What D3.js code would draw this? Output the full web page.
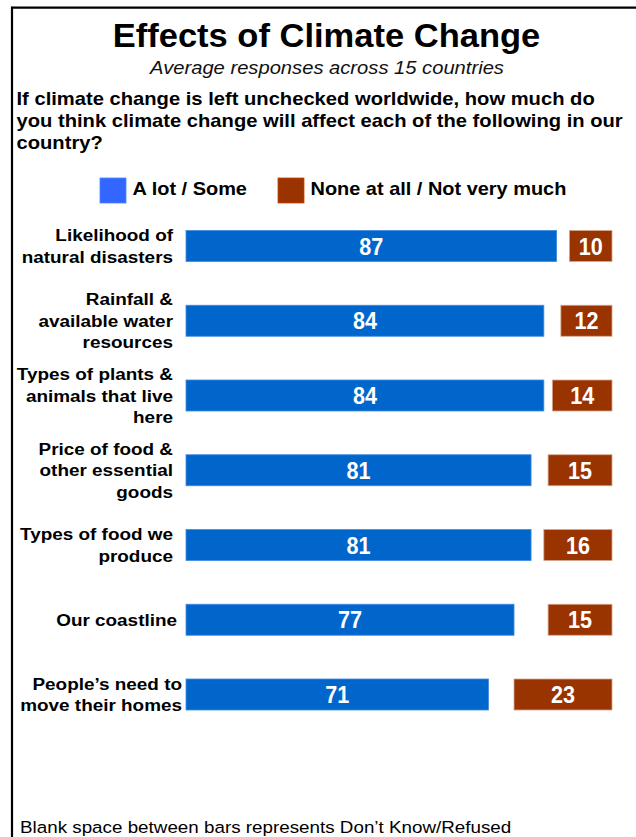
<!DOCTYPE html>
<html>
<head>
<meta charset="utf-8">
<script src="https://cdn.jsdelivr.net/npm/d3@7"></script>
<style>
  html, body { margin: 0; padding: 0; background: #ffffff; }
  svg { display: block; }
</style>
</head>
<body>
<svg id="chart" width="636" height="837"></svg>
<script>
// ---------- data ----------
const categories = [
  "Likelihood of natural disasters",
  "Rainfall & available water resources",
  "Types of plants & animals that live here",
  "Price of food & other essential goods",
  "Types of food we produce",
  "Our coastline",
  "People’s need to move their homes"
];
const labelLines = [
  ["Likelihood of", "natural disasters"],
  ["Rainfall &", "available water", "resources"],
  ["Types of plants &", "animals that live", "here"],
  ["Price of food &", "other essential", "goods"],
  ["Types of food we", "produce"],
  ["Our coastline"],
  ["People’s need to", "move their homes"]
];
const aLotSome = [87, 84, 84, 81, 81, 77, 71];
const noneNotMuch = [10, 12, 14, 15, 16, 15, 23];
const seriesNames = ["A lot / Some", "None at all / Not very much"];

const titleText = "Effects of Climate Change";
const subtitleText = "Average responses across 15 countries";
const questionLines = [
  "If climate change is left unchecked worldwide, how much do",
  "you think climate change will affect each of the following in our",
  "country?"
];
const footnoteText = "Blank space between bars represents Don’t Know/Refused";

// ---------- style ----------
const FONT = "'Liberation Sans', Arial, Helvetica, sans-serif";
const BLUE = "#0066cc";
const RED = "#993300";
const LEGEND_BLUE = "#3366ff";
const SX = 1.14; // horizontal stretch of the source text

const svg = d3.select("#chart");

function txt(x, y, str, o) {
  o = o || {};
  return svg.append("text")
    .attr("transform", `translate(${x},${y}) scale(${o.sx || SX},1)`)
    .attr("text-anchor", o.anchor || "start")
    .attr("font-family", FONT)
    .attr("font-size", o.size || 17)
    .attr("font-weight", o.weight || "normal")
    .attr("font-style", o.style || "normal")
    .attr("fill", o.fill || "#000")
    .text(str);
}

// frame
svg.append("line").attr("x1", 12).attr("x2", 12).attr("y1", 6.7).attr("y2", 837)
  .attr("stroke", "#000").attr("stroke-width", 2.2);
svg.append("line").attr("x1", 11).attr("x2", 636).attr("y1", 7.7).attr("y2", 7.7)
  .attr("stroke", "#000").attr("stroke-width", 2.2);

// titles
txt(326.5, 46.5, titleText, { size: 33.5, weight: "bold", anchor: "middle", sx: 1.03 });
txt(327, 74, subtitleText, { size: 17.7, style: "italic", anchor: "middle", fill: "#111" });
questionLines.forEach((l, i) =>
  txt(16.5, 105 + i * 22, l, { size: 17.7, weight: "bold" }));

// legend
const legendItems = [
  { name: seriesNames[0], color: LEGEND_BLUE, x: 100 },
  { name: seriesNames[1], color: RED, x: 278 }
];
legendItems.forEach(d => {
  svg.append("rect").attr("x", d.x).attr("y", 178).attr("width", 26).attr("height", 25)
    .attr("fill", d.color).attr("stroke", d3.color(d.color).brighter(0.8)).attr("stroke-width", 0.8);
  txt(d.x + 32.5, 195, d.name, { size: 17.5, weight: "bold" });
});

// scales
const x = d3.scaleLinear().domain([0, 100]).range([186, 612]);
const y = d3.scalePoint().domain(categories).range([246, 694.5]);
const barH = 31;

const rows = categories.map((c, i) => ({
  cat: c, lines: labelLines[i], a: aLotSome[i], n: noneNotMuch[i]
}));

const labelNudge = { "Our coastline": 4, "People’s need to move their homes": 9 };

// blue bars
svg.append("g").selectAll("rect").data(rows).join("rect")
  .attr("x", x(0))
  .attr("y", d => y(d.cat) - barH / 2)
  .attr("width", d => x(d.a) - x(0))
  .attr("height", barH)
  .attr("fill", BLUE)
  .attr("stroke", "#3f8ae0").attr("stroke-width", 0.8);

// red bars (right-aligned)
svg.append("g").selectAll("rect").data(rows).join("rect")
  .attr("x", d => x(100 - d.n))
  .attr("y", d => y(d.cat) - barH / 2)
  .attr("width", d => x(100) - x(100 - d.n))
  .attr("height", barH)
  .attr("fill", RED)
  .attr("stroke", "#d9a58c").attr("stroke-width", 0.8);

// value labels
rows.forEach(d => {
  txt((x(0) + x(d.a)) / 2, y(d.cat) + 8.5, d.a, { size: 24, weight: "bold", anchor: "middle", fill: "#fff", sx: 0.9 });
  txt((x(100 - d.n) + x(100)) / 2, y(d.cat) + 8.5, d.n, { size: 24, weight: "bold", anchor: "middle", fill: "#fff", sx: 0.9 });
});

// category labels
const lineH = 21.5;
rows.forEach(d => {
  const n = d.lines.length;
  const first = y(d.cat) - (n - 1) * lineH / 2 + 6;
  const rx = x(0) - 13 + (labelNudge[d.cat] || 0);
  d.lines.forEach((l, i) =>
    txt(rx, first + i * lineH, l, { size: 16.6, weight: "bold", anchor: "end" }));
});

// footnote
txt(20, 833, footnoteText, { size: 16.5 });
</script>
</body>
</html>
